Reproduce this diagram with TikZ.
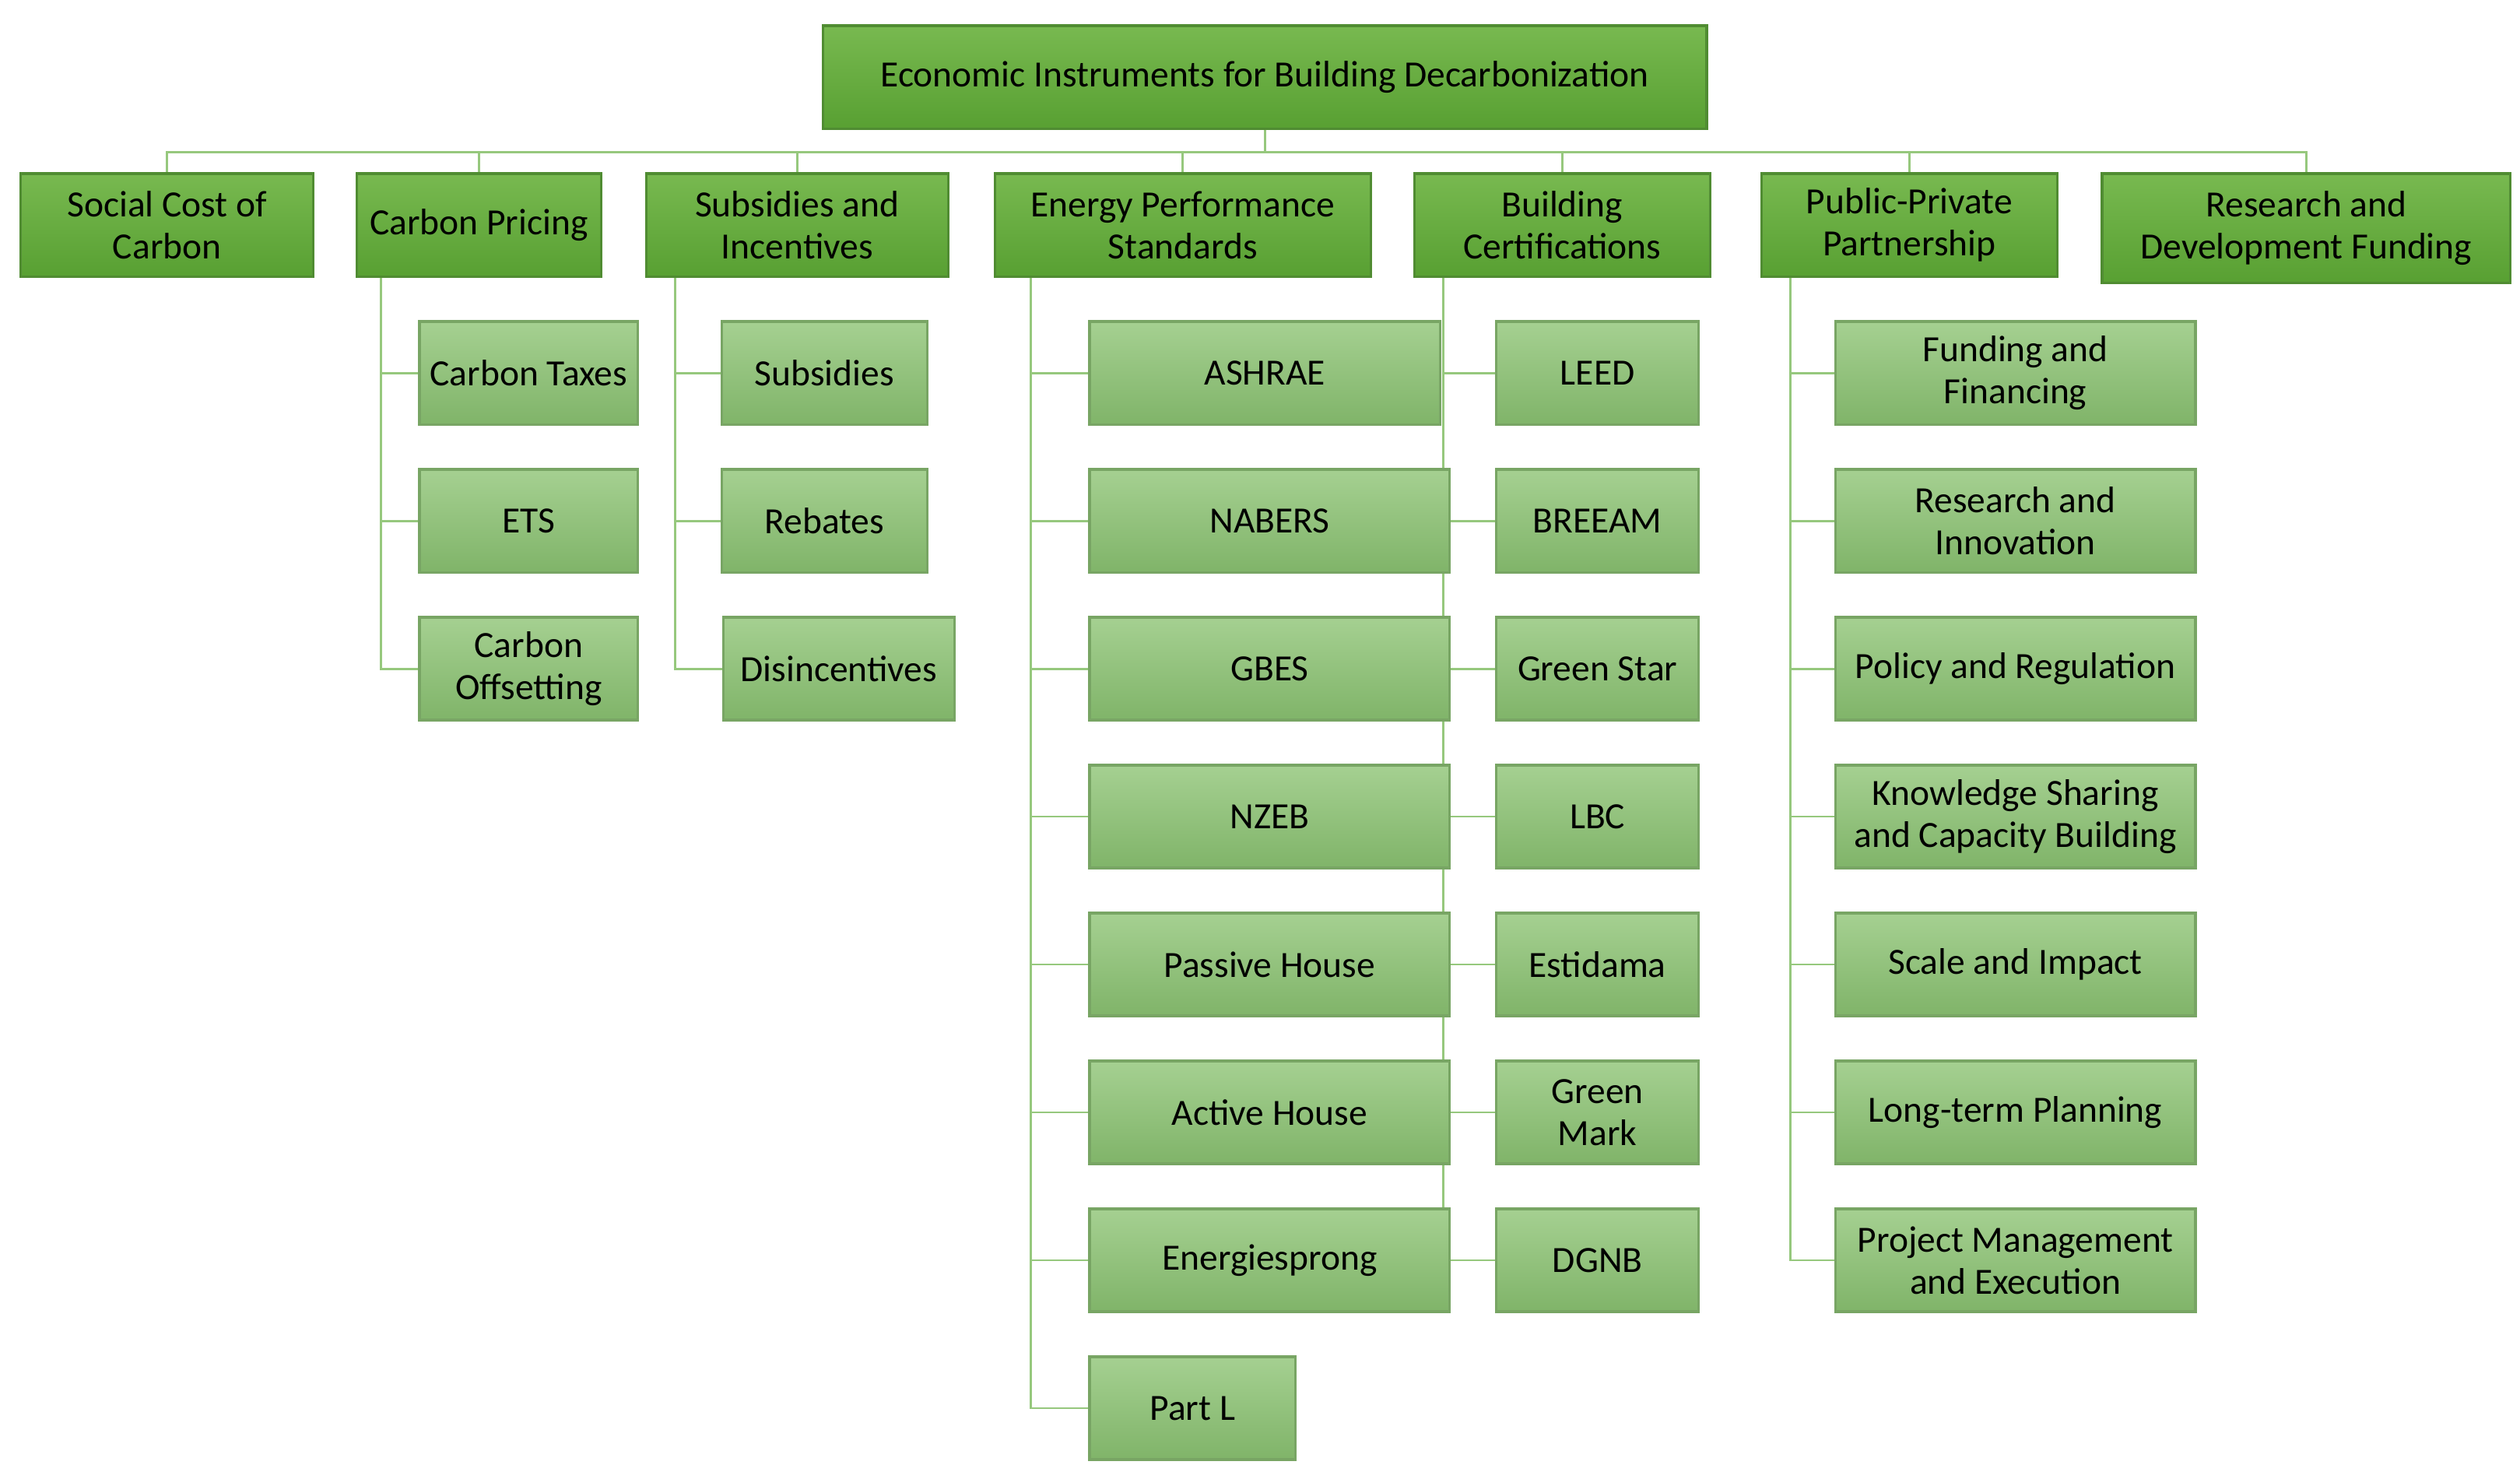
\documentclass[tikz,border=0pt]{standalone}
\usepackage{fontspec}
\setmainfont{Carlito}
\definecolor{tT}{RGB}{120,185,80}
\definecolor{tB}{RGB}{88,160,50}
\definecolor{tD}{RGB}{80,140,50}
\definecolor{sT}{RGB}{165,208,145}
\definecolor{sB}{RGB}{128,180,105}
\definecolor{sD}{RGB}{120,165,100}
\definecolor{lnC}{RGB}{150,200,125}
\begin{document}
\begin{tikzpicture}[x=0.5pt,y=-0.5pt,
 base/.style={draw=#1,line width=0.8pt,inner sep=1pt,align=center,font=\fontsize{11.5}{13}\selectfont,minimum height=32pt},
 top/.style={base=tD,top color=tT,bottom color=tB},
 sub/.style={base=sD,top color=sT,bottom color=sB},
 ln/.style={draw=lnC,line width=0.7pt}]
\useasboundingbox (0,0) rectangle (1568,919.6);
\node[top,minimum width=275pt] (root) at (787,48) {Economic Instruments for Building Decarbonization};
\node[top,minimum width=91pt] (sc) at (104,140) {Social Cost of\\Carbon};
\node[top,minimum width=76pt] (cp) at (298,140) {Carbon Pricing};
\node[top,minimum width=94pt] (si) at (496,140) {Subsidies and\\Incentives};
\node[top,minimum width=117pt] (ep) at (736,140) {Energy Performance\\Standards};
\node[top,minimum width=92pt] (bc) at (972,140) {Building\\Certifications};
\node[top,minimum width=92pt] (pp) at (1188,140) {Public-Private\\Partnership};
\node[top,minimum width=127pt,minimum height=34pt] (rd) at (1435,142) {Research and\\Development Funding};
\foreach \c in {sc,cp,si,ep,bc,pp,rd} \draw[ln] (root.south) -- ++(0,14) -| (\c.north);
% Carbon pricing
\node[sub,minimum width=68pt] (cp1) at (329,232) {Carbon Taxes};
\node[sub,minimum width=68pt] (cp2) at (329,324) {ETS};
\node[sub,minimum width=68pt] (cp3) at (329,416) {Carbon\\Offsetting};
\foreach \c in {cp1,cp2,cp3} \draw[ln] ([xshift=8pt]cp.south west) |- (\c.west);
% Subsidies
\node[sub,minimum width=64pt] (si1) at (513,232) {Subsidies};
\node[sub,minimum width=64pt] (si2) at (513,324) {Rebates};
\node[sub,minimum width=72pt] (si3) at (522,416) {Disincentives};
\foreach \c in {si1,si2,si3} \draw[ln] ([xshift=9.5pt]si.south west) |- (\c.west);
% Building certs
\node[sub,minimum width=63pt] (b1) at (994,232) {LEED};
\node[sub,minimum width=63pt] (b2) at (994,324) {BREEAM};
\node[sub,minimum width=63pt] (b3) at (994,416) {Green Star};
\node[sub,minimum width=63pt] (b4) at (994,508) {LBC};
\node[sub,minimum width=63pt] (b5) at (994,600) {Estidama};
\node[sub,minimum width=63pt] (b6) at (994,692) {Green\\Mark};
\node[sub,minimum width=63pt] (b7) at (994,784) {DGNB};
\foreach \c in {b1,b2,b3,b4,b5,b6,b7} \draw[ln] ([xshift=9.5pt]bc.south west) |- (\c.west);
% EPS
\node[sub,minimum width=109pt] (e1) at (787,232) {ASHRAE};
\node[sub,minimum width=112pt] (e2) at (790,324) {NABERS};
\node[sub,minimum width=112pt] (e3) at (790,416) {GBES};
\node[sub,minimum width=112pt] (e4) at (790,508) {NZEB};
\node[sub,minimum width=112pt] (e5) at (790,600) {Passive House};
\node[sub,minimum width=112pt] (e6) at (790,692) {Active House};
\node[sub,minimum width=112pt] (e7) at (790,784) {Energiesprong};
\node[sub,minimum width=64pt] (e8) at (742,876) {Part L};
\foreach \c in {e1,e2,e3,e4,e5,e6,e7,e8} \draw[ln] ([xshift=11.5pt]ep.south west) |- (\c.west);
% PPP
\node[sub,minimum width=112pt] (p1) at (1254,232) {Funding and\\Financing};
\node[sub,minimum width=112pt] (p2) at (1254,324) {Research and\\Innovation};
\node[sub,minimum width=112pt] (p3) at (1254,416) {Policy and Regulation};
\node[sub,minimum width=112pt] (p4) at (1254,508) {Knowledge Sharing\\and Capacity Building};
\node[sub,minimum width=112pt] (p5) at (1254,600) {Scale and Impact};
\node[sub,minimum width=112pt] (p6) at (1254,692) {Long-term Planning};
\node[sub,minimum width=112pt] (p7) at (1254,784) {Project Management\\and Execution};
\foreach \c in {p1,p2,p3,p4,p5,p6,p7} \draw[ln] ([xshift=9.5pt]pp.south west) |- (\c.west);
\end{tikzpicture}
\end{document}
